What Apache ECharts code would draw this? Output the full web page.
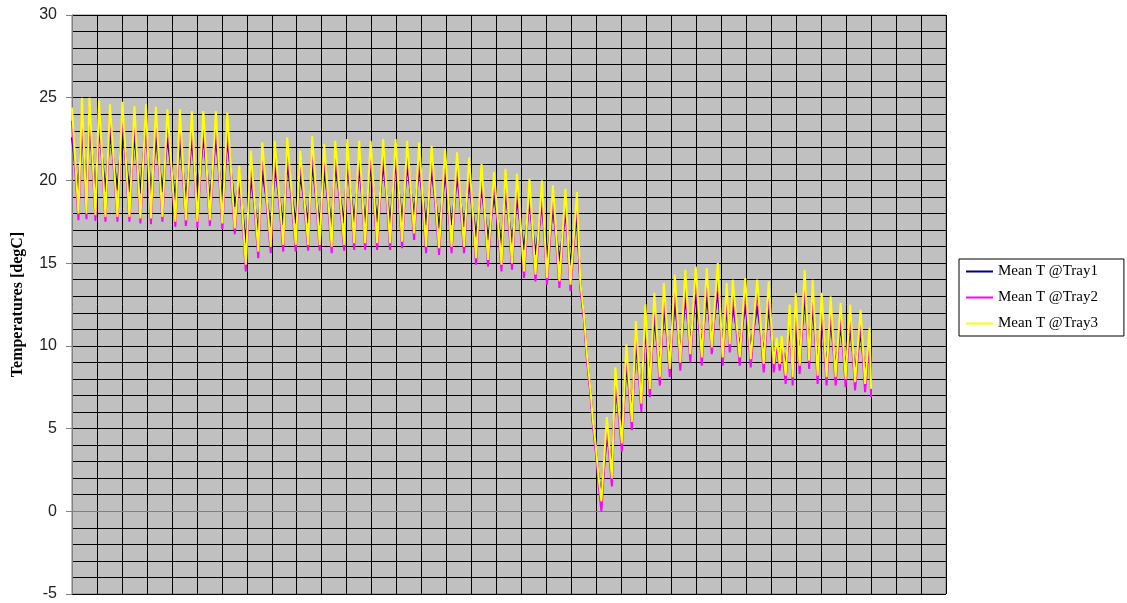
<!DOCTYPE html>
<html>
<head>
<meta charset="utf-8">
<script src="https://cdn.jsdelivr.net/npm/echarts@6/dist/echarts.min.js"></script>
<style>
  html, body { margin: 0; padding: 0; background: #fff; }
  #chart { width: 1127px; height: 603px; }
</style>
</head>
<body>
<div id="chart"></div>
<script>
// turning points of the daily cycles, in hours from start
const hours = [0,13,20,29,35,47,54,67,76,91,101,115,125,137,148,158,168,181,191,207,216,228,240,251,263,276,288,301,311,326,335,348,
  358,373,381,398,406,423,431,448,457,473,481,496,505,520,527,545,551,565,575,587,598,611,623,637,648,661,671,685,695,709,720,735,747,760,771,785,795,809,820,833,845,860,868,881,891,905,916,928,941,951,963,976,988,998,1011,
  1018,1025,1031,1038,1043,1049,1055,1060,
  1071,1081,1088,1101,1110,1121,1129,1140,1148,1157,1166,1177,1185,1197,1207,1218,1228,1238,1249,1261,1271,1281,1293,1303,1311,1317,1323,1337,1348,1359,1372,1385,1395,1405,1411,1417,1421,1429,1437,1443,1449,1457,1467,1476,1483,1493,1501,1511,1519,1529,1539,1549,1558,1568,1579,1588,1597,1600];

const tray1 = [22.6,19.2,23.4,19.1,23.6,19.0,23.3,19.3,22.9,19.4,23.2,19.3,22.7,19.2,23.4,19.0,22.6,19.3,22.6,18.8,22.4,18.9,22.5,18.9,22.7,18.8,22.6,18.7,22.5,18.4,19.9,16.2,
  20.2,16.9,20.6,17.2,20.8,17.3,21.0,17.4,20.3,17.4,21.0,17.3,20.6,17.2,20.9,17.4,21.0,17.5,20.8,17.4,20.9,17.5,21.0,17.4,21.1,17.5,20.9,17.9,20.8,17.3,20.6,17.1,20.4,17.3,20.2,17.2,19.9,16.6,19.6,16.4,19.1,16.1,19.3,16.2,18.9,15.8,18.7,15.5,18.6,15.3,18.3,15.1,18.1,14.9,17.9,
  13.7,11.8,9.4,7.3,5.4,3.8,1.9,1.0,
  4.6,2.8,7.4,4.9,8.8,6.1,10.0,7.2,11.0,8.1,11.6,8.8,12.2,9.3,12.6,9.7,12.9,10.2,13.1,10.0,13.0,10.5,13.3,10.0,12.2,10.6,12.4,10.0,12.5,9.9,12.4,9.6,12.3,9.5,9.9,9.4,10.0,8.9,11.2,8.8,11.7,9.5,12.9,9.8,12.4,8.9,11.7,8.8,11.5,8.8,11.2,8.7,11.1,8.5,10.8,8.4,9.9,8.2];

const tray2 = [23.6,17.6,24.4,17.65,24.5,17.55,24.3,17.5,24.0,17.5,24.2,17.5,23.9,17.4,24.1,17.35,23.9,17.5,23.7,17.2,23.6,17.25,23.6,17.15,23.7,17.25,23.6,17.05,23.4,16.75,20.6,14.5,
  21.3,15.3,21.8,15.6,21.9,15.7,22.0,15.7,21.3,15.75,22.1,15.75,21.7,15.6,21.9,15.75,22.0,15.8,21.9,15.8,21.8,15.8,22.0,15.8,22.0,15.9,21.9,16.4,21.7,15.6,21.5,15.5,21.4,15.6,21.1,15.6,20.9,14.9,20.5,14.8,20.0,14.5,20.2,14.6,19.9,14.1,19.6,13.9,19.4,13.7,19.1,13.5,18.9,13.3,18.8,
  13.4,11.6,9.2,7.1,5.2,3.5,1.5,0.0,
  5.2,1.5,8.2,3.6,9.6,4.9,11.0,6.0,12.0,6.9,12.6,7.6,13.2,8.1,13.7,8.5,14.0,9.0,14.2,8.8,14.1,9.5,14.4,8.8,13.2,9.6,13.4,8.8,13.5,8.7,13.4,8.4,13.3,8.4,10.1,8.5,10.2,7.7,12.0,7.6,12.6,8.3,14.0,8.6,13.4,7.7,12.6,7.6,12.4,7.6,12.0,7.5,11.9,7.3,11.6,7.2,10.5,6.9];

const tray3 = [24.4,18.0,25.0,18.0,25.0,17.9,24.85,17.8,24.6,17.8,24.75,17.8,24.5,17.7,24.6,17.7,24.45,17.8,24.3,17.5,24.3,17.6,24.2,17.5,24.2,17.6,24.2,17.4,24.1,17.1,20.9,14.9,
  21.8,15.7,22.3,16.0,22.4,16.1,22.6,16.1,21.8,16.1,22.7,16.1,22.2,16.0,22.4,16.1,22.5,16.2,22.4,16.2,22.4,16.2,22.5,16.2,22.5,16.3,22.4,16.8,22.3,16.0,22.1,15.9,21.9,16.0,21.7,16.0,21.4,15.3,21.0,15.2,20.5,14.9,20.7,15.0,20.4,14.5,20.1,14.3,20.0,14.1,19.7,13.9,19.5,13.7,19.3,
  13.8,11.9,9.5,7.4,5.5,3.9,1.9,0.6,
  5.7,2.0,8.7,4.1,10.1,5.4,11.5,6.5,12.5,7.4,13.2,8.1,13.8,8.6,14.3,9.0,14.6,9.5,14.8,9.3,14.7,9.9,15.0,9.3,13.8,10.1,14.0,9.3,14.1,9.2,14.0,8.9,13.9,8.9,10.5,8.9,10.6,8.2,12.5,8.1,13.2,8.8,14.6,9.1,14.0,8.2,13.2,8.1,13.0,8.1,12.6,8.0,12.5,7.8,12.2,7.7,11.1,7.4];

const seriesNames = ['Mean T @Tray1', 'Mean T @Tray2', 'Mean T @Tray3'];
const seriesColors = ['#000080', '#ff00ff', '#ffff00'];

const chart = echarts.init(document.getElementById('chart'), null, { renderer: 'canvas' });

function pairs(values) {
  return values.map((v, i) => [hours[i], v]);
}

const option = {
  animation: false,
  backgroundColor: '#ffffff',
  grid: {
    left: 72, top: 15, width: 874, height: 579,
    outerBoundsMode: 'none',
    containLabel: false,
    show: true,
    backgroundColor: '#c0c0c0',
    borderColor: '#808080',
    borderWidth: 1
  },
  legend: {
    orient: 'vertical',
    left: 959, top: 259,
    icon: 'rect',
    itemWidth: 27, itemHeight: 2,
    itemGap: 11,
    padding: [5, 26, 5, 7],
    borderColor: '#000',
    borderWidth: 1,
    backgroundColor: '#fff',
    textStyle: { fontFamily: 'Liberation Serif', fontSize: 15, color: '#000' },
    data: seriesNames
  },
  xAxis: {
    type: 'value',
    min: 0, max: 1750, interval: 50,
    axisLine: { show: true, lineStyle: { color: '#808080' } },
    axisTick: { show: false },
    axisLabel: { show: false },
    splitLine: { show: true, lineStyle: { color: '#000', width: 1 } }
  },
  yAxis: {
    type: 'value',
    min: -5, max: 30, interval: 5,
    name: 'Temperatures [degC]',
    nameLocation: 'middle',
    nameGap: 46,
    nameTextStyle: { fontFamily: 'Liberation Serif', fontWeight: 'bold', fontSize: 16, color: '#000' },
    axisLine: { show: true, lineStyle: { color: '#808080' } },
    axisTick: { show: true, length: 6, lineStyle: { color: '#808080' } },
    axisLabel: { fontFamily: 'Liberation Sans', fontSize: 16, color: '#222', margin: 15 },
    splitLine: { show: true, lineStyle: { color: '#000', width: 1 } },
    minorTick: { show: false, splitNumber: 5 },
    minorSplitLine: { show: true, lineStyle: { color: '#000', width: 1 } }
  },
  series: [tray1, tray2, tray3].map((vals, i) => ({
    name: seriesNames[i],
    type: 'line',
    data: pairs(vals),
    showSymbol: false,
    symbol: 'none',
    color: seriesColors[i],
    lineStyle: { color: seriesColors[i], width: 2 }
  }))
};

chart.setOption(option);
</script>
</body>
</html>
